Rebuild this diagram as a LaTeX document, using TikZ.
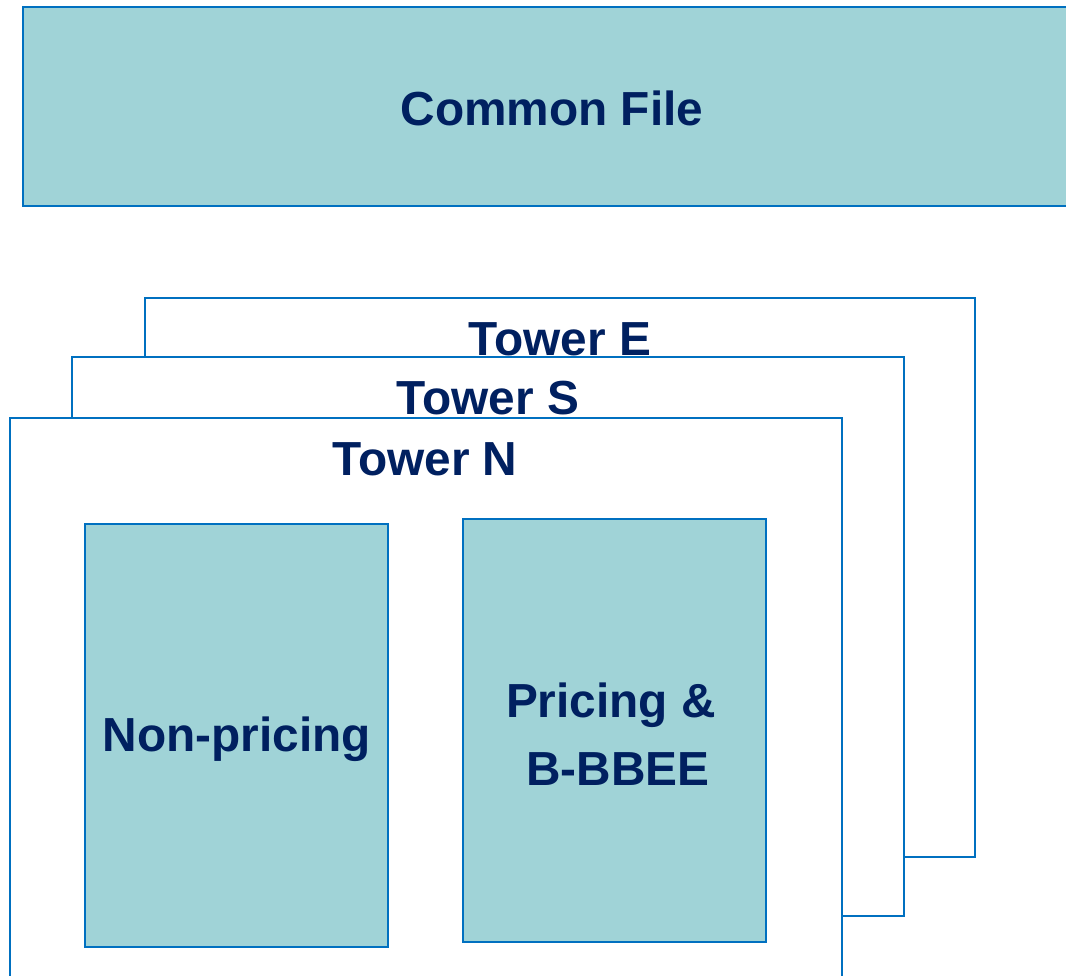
\documentclass[tikz,border=0pt]{standalone}
\usepackage{fontspec}
\setmainfont{Liberation Sans}
\definecolor{tealfill}{HTML}{A0D3D7}
\definecolor{edgeblue}{HTML}{0070C0}
\definecolor{navy}{HTML}{002060}
\begin{document}
\begin{tikzpicture}[x=1pt,y=-1pt,
  tealbox/.style={draw=edgeblue,line width=1.8pt,fill=tealfill},
  towerbox/.style={draw=edgeblue,line width=1.8pt,fill=white},
  lbl/.style={text=navy,font=\fontsize{47.8}{68}\selectfont\bfseries,align=center,inner sep=0pt}]
\useasboundingbox (0,0) rectangle (1066,975);
\begin{scope}
\clip (0,0) rectangle (1066,975);
\draw[tealbox] (23,7) rectangle (1080,206);
\node[lbl] (common) at (552,108) {Common File};
\draw[towerbox] (145,298) rectangle (975,857);
\draw[towerbox] (72,357) rectangle (904,916);
\node[lbl] (towerE) at (560,339) {Tower E};
\draw[towerbox] (10,418) rectangle (842,990);
\node[lbl] (towerS) at (488,398) {Tower S};
\node[lbl] (towerN) at (425,459) {Tower N};
\draw[tealbox] (85,524) rectangle (388,947);
\node[lbl] (nonpricing) at (237,739) {Non-pricing};
\draw[tealbox] (463,519) rectangle (766,942);
\node[lbl] (pricing) at (611,734) {Pricing \&\\ \hspace*{14pt}B-BBEE};
\end{scope}
\end{tikzpicture}
\end{document}
